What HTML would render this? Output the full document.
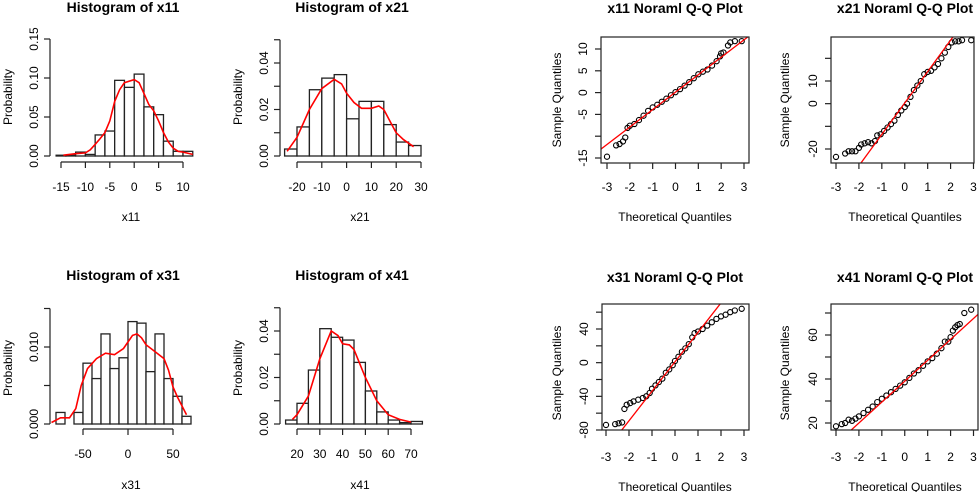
<!DOCTYPE html>
<html><head><meta charset="utf-8"><style>
html,body{margin:0;padding:0;background:#fff;}
svg{display:block;font-family:"Liberation Sans",Arial,sans-serif;}
</style></head><body>
<svg id="chart" width="979" height="492" viewBox="0 0 979 492"></svg>
<script>
// ---------- Histogram data ----------
const x11BinStarts=[-16,-14,-12,-10,-8,-6,-4,-2,0,2,4,6,8,10];
const x11Density=[0.001,0.001,0.005,0.002,0.027,0.032,0.097,0.088,0.105,0.063,0.053,0.019,0.006,0.006];
const x11CurveX=[-14.5,-12,-10,-9,-8,-7,-6,-5,-4,-3,-2,0,1,2,3,4,5,6,7,8,9,10,12];
const x11CurveY=[0.001,0.003,0.004,0.008,0.015,0.022,0.03,0.045,0.07,0.085,0.094,0.098,0.094,0.08,0.066,0.058,0.045,0.03,0.018,0.01,0.006,0.005,0.002];
const x11XTicks=[-15,-10,-5,0,5,10];
const x11YTicks=[0,0.05,0.10,0.15];
const x11YLabels=['0.00','0.05','0.10','0.15'];

const x21BinStarts=[-25,-20,-15,-10,-5,0,5,10,15,20,25];
const x21Density=[0.003,0.0125,0.0285,0.0335,0.035,0.016,0.0235,0.0235,0.0135,0.006,0.0045];
const x21CurveX=[-24,-20,-15,-10,-5,-2,0,3,6,10,13,15,18,20,23,27];
const x21CurveY=[0.002,0.008,0.02,0.029,0.033,0.031,0.027,0.023,0.0205,0.0205,0.0215,0.02,0.014,0.01,0.007,0.004];
const x21XTicks=[-20,-10,0,10,20,30];
const x21YTicks=[0,0.01,0.02,0.03,0.04,0.05];
const x21YLabels=['0.00',null,'0.02',null,'0.04',null];

const x31BinStarts=[-80,-70,-60,-50,-40,-30,-20,-10,0,10,20,30,40,50,60];
const x31Density=[0.0015,0,0.0015,0.0079,0.0059,0.0117,0.0072,0.0086,0.0133,0.0131,0.0068,0.0117,0.0059,0.0036,0.001];
const x31CurveX=[-85,-75,-65,-58,-52,-45,-35,-25,-15,-5,5,10,15,20,30,40,45,50,55,65];
const x31CurveY=[0.0002,0.0008,0.0008,0.002,0.005,0.0072,0.0085,0.0092,0.009,0.0098,0.0115,0.0117,0.0112,0.0103,0.0094,0.0085,0.007,0.0048,0.0035,0.0012];
const x31XTicks=[-50,0,50];
const x31YTicks=[0,0.005,0.010,0.015];
const x31YLabels=['0.000',null,'0.010',null];

const x41BinStarts=[15,20,25,30,35,40,45,50,55,60,65,70];
const x41Density=[0.0017,0.0089,0.0232,0.041,0.0373,0.0361,0.0265,0.0142,0.0052,0.0017,0.0006,0.0011];
const x41CurveX=[18,20,25,30,35,38,40,43,45,50,55,60,65,70];
const x41CurveY=[0.002,0.004,0.012,0.028,0.040,0.038,0.0345,0.034,0.032,0.02,0.01,0.004,0.002,0.0008];
const x41XTicks=[20,30,40,50,60,70];
const x41YTicks=[0,0.01,0.02,0.03,0.04,0.05];
const x41YLabels=['0.00',null,'0.02',null,'0.04',null];

// ---------- Q-Q data ----------
const x11Theo=[-3,-2.6,-2.45,-2.3,-2.2,-2.1,-2,-1.8,-1.6,-1.4,-1.2,-1,-0.8,-0.6,-0.4,-0.2,0,0.2,0.4,0.6,0.8,1,1.2,1.4,1.6,1.8,1.95,2,2.1,2.3,2.4,2.6,2.9];
const x11Sample=[-14.7,-12.1,-11.8,-11.2,-10.3,-8.1,-7.6,-7.2,-6.3,-5.3,-4.2,-3.4,-2.8,-2.1,-1.4,-0.6,0.1,0.8,1.6,2.4,3.3,4.2,4.8,5.3,6.2,7.2,8.3,9,9.2,10.8,11.5,11.8,11.8];
const x11Line=[0.1,4.0];
const qqXTicks=[-3,-2,-1,0,1,2,3];
const x11QYTicks=[-15,-10,-5,0,5,10];
const x11QYLabels=['-15',null,'-5','0','5','10'];

const x21Theo=[-3,-2.6,-2.45,-2.3,-2.15,-2,-1.9,-1.75,-1.6,-1.45,-1.3,-1.2,-1.05,-0.9,-0.75,-0.6,-0.45,-0.3,-0.15,0,0.1,0.25,0.4,0.55,0.7,0.85,1,1.15,1.3,1.45,1.6,1.75,1.9,2.05,2.2,2.35,2.5,2.9];
const x21Sample=[-23.5,-22,-21,-21,-21,-19.5,-18,-17.5,-17,-17.5,-16.5,-14,-13.5,-12,-10.5,-9,-7.5,-5,-3,-1.5,0,3,6,8,10,13,14,14.5,16,17.5,20,22.5,25,27,27.5,27.5,28,28];
const x21Line=[0.3,13.85];
const x21QYTicks=[-20,-10,0,10,20];
const x21QYLabels=['-20',null,'0','10',null];

const x31Theo=[-3,-2.6,-2.45,-2.3,-2.2,-2.1,-1.95,-1.8,-1.6,-1.4,-1.25,-1.1,-1,-0.85,-0.7,-0.55,-0.4,-0.25,-0.1,0,0.15,0.3,0.45,0.6,0.75,0.85,1,1.2,1.4,1.6,1.8,2,2.2,2.4,2.6,2.9];
const x31Sample=[-74,-73,-72,-71,-55,-50,-48,-46,-44,-42,-40,-36,-31,-27,-23,-19,-12,-8,-3,2,7,13,17,22,30,35,37,40,44,48,52,55,57,60,62,64];
const x31Line=[1,35];
const x31QYTicks=[-80,-60,-40,-20,0,20,40,60];
const x31QYLabels=['-80',null,'-40',null,'0',null,'40',null];

const x41Theo=[-3,-2.75,-2.6,-2.45,-2.3,-2.15,-2,-1.8,-1.6,-1.4,-1.2,-1,-0.8,-0.6,-0.4,-0.2,0,0.2,0.4,0.6,0.8,1,1.2,1.4,1.6,1.75,1.9,2,2.1,2.2,2.3,2.4,2.6,2.9];
const x41Sample=[18.5,19.5,20,21.5,21,22,23,24.5,26,27.5,29.5,31,32.5,34,35.5,37,38.5,40.5,42.5,44,46,48,49.5,51.5,54,57,57,59,62,63.5,64.5,65,70,71.5];
const x41Line=[39,9.5];
const x41QYTicks=[20,30,40,50,60,70];
const x41QYLabels=['20',null,'40',null,'60',null];

// ---------- helpers ----------
const NS='http://www.w3.org/2000/svg';
const svg=document.getElementById('chart');
function lin(d0,d1,r0,r1){return v=>r0+(v-d0)*(r1-r0)/(d1-d0);}
function mk(tag,attrs,parent){const e=document.createElementNS(NS,tag);for(const k in attrs)e.setAttribute(k,attrs[k]);(parent||svg).appendChild(e);return e;}
function txt(str,x,y,size,bold,rot,parent){
  const t=mk('text',{x:x,y:y,'font-size':size,'text-anchor':'middle',fill:'#000'},parent);
  if(bold)t.setAttribute('font-weight','bold');
  if(rot)t.setAttribute('transform','rotate(-90 '+x+' '+y+')');
  t.textContent=str;return t;
}

function drawHist(c){
  const g=mk('g',{});
  
  
  const sx=c.sx, sy=c.sy;
  c.starts.forEach((s,i)=>{
    const x0=sx(s),x1=sx(s+c.bw),y=sy(c.vals[i]);
    const r=mk('rect',{x:x0,y:y,width:x1-x0,height:Math.max(0,sy(0)-y),fill:'#fff',stroke:'#222','stroke-width':1.3},g);
    
    
  });
  const pts=c.cx.map((v,i)=>sx(v).toFixed(1)+','+sy(c.cy[i]).toFixed(1)).join(' ');
  const pl=mk('polyline',{points:pts,fill:'none',stroke:'#f00','stroke-width':1.6},g);
  
  
  // y axis
  const ya=mk('g',{},g);
  
  
  mk('line',{x1:c.yAxisX,x2:c.yAxisX,y1:sy(c.yt[0]),y2:sy(c.yt[c.yt.length-1]),stroke:'#222','stroke-width':1.2},ya);
  c.yt.forEach((v,i)=>{
    mk('line',{x1:c.yAxisX-6,x2:c.yAxisX,y1:sy(v),y2:sy(v),stroke:'#222','stroke-width':1.2},ya);
    if(c.yl[i]){const t=txt(c.yl[i],c.yAxisX-12,sy(v),12,false,true,ya);
      
      }
  });
  const xa=mk('g',{},g);
  
  
  mk('line',{x1:sx(c.xt[0]),x2:sx(c.xt[c.xt.length-1]),y1:c.xAxisY,y2:c.xAxisY,stroke:'#222','stroke-width':1.2},xa);
  c.xt.forEach(v=>{
    mk('line',{x1:sx(v),x2:sx(v),y1:c.xAxisY,y2:c.xAxisY+6,stroke:'#222','stroke-width':1.2},xa);
    const t=txt(String(v),sx(v),c.xAxisY+29,12,false,false,xa);
    
    
  });
  const tt=txt('Histogram of '+c.id,c.cxTitle,c.titleY,14,true,false,g);
  
  
  const xl=txt(c.id,c.cxTitle+8,c.xLabY,12,false,false,g);
  
  
  const yl=txt('Probability',c.yLabX,c.yLabC,12,false,true,g);
  
  
}

function drawQQ(c){
  const g=mk('g',{});
  
  
  const sx=c.sx, sy=c.sy, f=c.frame;
  const cp=mk('clipPath',{id:'clip-'+c.id},g);
  mk('rect',{x:f.x,y:f.y,width:f.w,height:f.h},cp);
  c.theo.forEach((q,i)=>{
    const p=mk('circle',{cx:sx(q),cy:sy(c.samp[i]),r:2.6,fill:'none',stroke:'#000','stroke-width':1.1},g);
    
    
  });
  const qa=-4,qb=4;
  const ln=mk('line',{x1:sx(qa),y1:sy(c.line[0]+c.line[1]*qa),x2:sx(qb),y2:sy(c.line[0]+c.line[1]*qb),stroke:'#f00','stroke-width':1.3,'clip-path':'url(#clip-'+c.id+')'},g);
  
  
  const fr=mk('rect',{x:f.x,y:f.y,width:f.w,height:f.h,fill:'none',stroke:'#222','stroke-width':1.2},g);
  
  
  const ya=mk('g',{},g);
  
  
  c.yt.forEach((v,i)=>{
    mk('line',{x1:f.x-6,x2:f.x,y1:sy(v),y2:sy(v),stroke:'#222','stroke-width':1.2},ya);
    if(c.yl[i]){const t=txt(c.yl[i],f.x-14,sy(v),12,false,true,ya);
      
      }
  });
  const xa=mk('g',{},g);
  
  
  qqXTicks.forEach(v=>{
    mk('line',{x1:sx(v),x2:sx(v),y1:f.y+f.h,y2:f.y+f.h+6,stroke:'#222','stroke-width':1.2},xa);
    const t=txt(String(v),sx(v),c.xTickY,12,false,false,xa);
    
    
  });
  const tt=txt(c.id+' Noraml Q-Q Plot',c.cxTitle,c.titleY,14,true,false,g);
  
  
  const xl=txt('Theoretical Quantiles',c.cxTitle,c.xLabY,12,false,false,g);
  
  
  const yl=txt('Sample Quantiles',c.yLabX,c.yLabC,12,false,true,g);
  
  
}

drawHist({id:'x11',starts:x11BinStarts,bw:2,vals:x11Density,cx:x11CurveX,cy:x11CurveY,xt:x11XTicks,yt:x11YTicks,yl:x11YLabels,
  sx:lin(-15,10,61,183),sy:lin(0,0.15,156,39),yAxisX:50,xAxisY:162,cxTitle:123,titleY:12,xLabY:221,yLabX:12,yLabC:97});
drawHist({id:'x21',starts:x21BinStarts,bw:5,vals:x21Density,cx:x21CurveX,cy:x21CurveY,xt:x21XTicks,yt:x21YTicks,yl:x21YLabels,
  sx:lin(-20,30,297,421),sy:lin(0,0.04,156,63),yAxisX:280,xAxisY:162,cxTitle:352,titleY:12,xLabY:221,yLabX:242,yLabC:97});
drawHist({id:'x31',starts:x31BinStarts,bw:10,vals:x31Density,cx:x31CurveX,cy:x31CurveY,xt:x31XTicks,yt:x31YTicks,yl:x31YLabels,
  sx:lin(-50,50,83,173),sy:lin(0,0.01,424,347),yAxisX:50,xAxisY:429,cxTitle:123,titleY:280,xLabY:489,yLabX:12,yLabC:368});
drawHist({id:'x41',starts:x41BinStarts,bw:5,vals:x41Density,cx:x41CurveX,cy:x41CurveY,xt:x41XTicks,yt:x41YTicks,yl:x41YLabels,
  sx:lin(20,70,297,411),sy:lin(0,0.04,424,331),yAxisX:280,xAxisY:429,cxTitle:352,titleY:280,xLabY:489,yLabX:242,yLabC:368});

drawQQ({id:'x11',theo:x11Theo,samp:x11Sample,line:x11Line,yt:x11QYTicks,yl:x11QYLabels,
  sx:lin(-3,3,607,744),sy:lin(-15,10,158,49),frame:{x:601,y:37,w:148,h:126},xTickY:191,cxTitle:675,titleY:13,xLabY:221,yLabX:561,yLabC:100});
drawQQ({id:'x21',theo:x21Theo,samp:x21Sample,line:x21Line,yt:x21QYTicks,yl:x21QYLabels,
  sx:lin(-3,3,836,973.5),sy:lin(-20,10,149,81),frame:{x:831,y:37,w:143,h:126},xTickY:191,cxTitle:905,titleY:13,xLabY:221,yLabX:789,yLabC:100});
drawQQ({id:'x31',theo:x31Theo,samp:x31Sample,line:x31Line,yt:x31QYTicks,yl:x31QYLabels,
  sx:lin(-3,3,606,744),sy:lin(-80,40,430,329),frame:{x:602,y:304,w:147,h:126},xTickY:461,cxTitle:675,titleY:282,xLabY:491,yLabX:561,yLabC:373});
drawQQ({id:'x41',theo:x41Theo,samp:x41Sample,line:x41Line,yt:x41QYTicks,yl:x41QYLabels,
  sx:lin(-3,3,836,973.5),sy:lin(20,60,423,335),frame:{x:831,y:304,w:147,h:126},xTickY:461,cxTitle:905,titleY:282,xLabY:491,yLabX:789,yLabC:373});
</script>
</body></html>
